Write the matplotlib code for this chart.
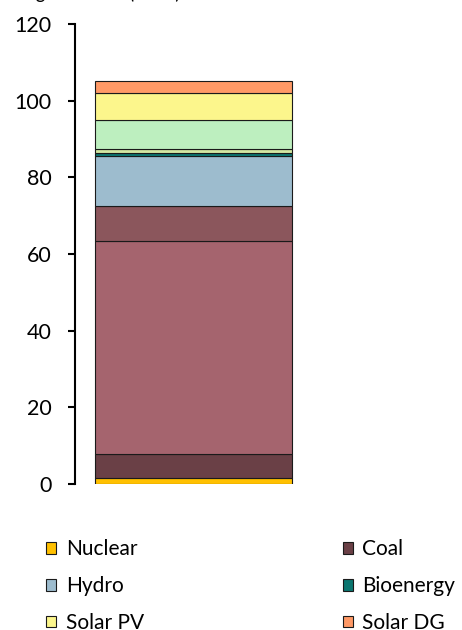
import matplotlib
matplotlib.use("Agg")
import matplotlib.pyplot as plt
from matplotlib.patches import Patch

plt.rcParams['font.family'] = ['Lato', 'DejaVu Sans']

# Stacked generation mix (TWh), bottom to top
sources = ["Nuclear", "Coal", "Gas CC", "Gas CT", "Hydro", "Bioenergy",
           "Geothermal", "Wind", "Solar PV", "Solar DG"]
values = [1.5, 6.3, 55.5, 9.2, 13.0, 0.9, 0.9, 7.7, 7.0, 3.1]
colors = ["#FFC000", "#6A4046", "#A5646E", "#8B565C", "#9DBCCE", "#0B7670",
          "#D3E8A2", "#BDEFBF", "#FCF68C", "#FF9966"]
legend_names = ["Nuclear", "Coal", "Hydro", "Bioenergy", "Solar PV", "Solar DG"]
yticks = [0, 20, 40, 60, 80, 100, 120]

fig = plt.figure(figsize=(4.62, 6.30), dpi=100)
ax = fig.add_axes([75 / 462, 1 - 484 / 630, 237 / 462, 460 / 630])

bottom = 0.0
for name, v, c in zip(sources, values, colors):
    ax.bar(0, v, width=0.83, bottom=bottom, color=c, edgecolor="#1a1a1a",
           linewidth=0.8, label=name)
    bottom += v

ax.set_xlim(-0.5, 0.5)
ax.set_ylim(0, 120)
ax.set_yticks(yticks)
ax.set_xticks([])
for s in ("top", "right", "bottom"):
    ax.spines[s].set_visible(False)
ax.spines["left"].set_linewidth(1.5)
ax.tick_params(axis="y", length=5, width=1.5, pad=12, labelsize=15.5)

fig.text(0.0, 1 + 1.0 / 630, "Net generation (TWh)", fontsize=13.5,
         ha="left", va="baseline")

# Legend: two columns, column-major order
cmap = dict(zip(sources, colors))
order = ["Nuclear", "Hydro", "Solar PV", "Coal", "Bioenergy", "Solar DG"]
handles = [Patch(facecolor=cmap[n], edgecolor="#1a1a1a", linewidth=0.8, label=n)
           for n in order]
fig.legend(handles=handles, ncol=2, frameon=False, fontsize=15,
           loc="upper left", bbox_to_anchor=(38 / 462, 1 - 531 / 630),
           handlelength=0.48, handleheight=0.48, handletextpad=0.45,
           columnspacing=9.55, labelspacing=0.81, borderaxespad=0)

fig.savefig("out.png", dpi=100)
